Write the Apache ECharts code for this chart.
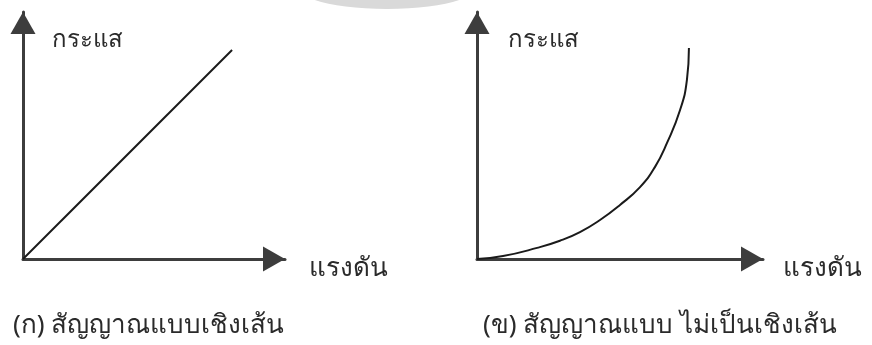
<!DOCTYPE html>
<html>
<head>
<meta charset="utf-8">
<script src="https://cdn.jsdelivr.net/npm/echarts@6/dist/echarts.min.js"></script>
<style>
  html, body { margin: 0; padding: 0; background: #ffffff; }
  #chart { width: 872px; height: 345px; }
</style>
</head>
<body>
<div id="chart"></div>
<script>
// values, in 0..100 units of each panel's axes
const linearX = [0, 79.8]
const linearY = [0, 84.6]
const curveX = [0, 9.1, 21.0, 29.0, 36.0, 43.0, 50.0, 57.0, 62.2, 66.4, 71.0, 73.4, 74.1]
const curveY = [0, 1.2, 4.5, 7.4, 10.9, 15.8, 21.9, 29.1, 37.2, 46.9, 60.3, 72.5, 85.4]

const yLabel = 'กระแส'
const xLabel = 'แรงดัน'
const captions = ['(ก) สัญญาณแบบเชิงเส้น', '(ข) สัญญาณแบบ ไม่เป็นเชิงเส้น']

const font = "'Noto Sans', 'DejaVu Sans', sans-serif"
const axisColor = '#3d3d3d'
const textColor = '#2a2a2a'

function makeAxis(gridIndex) {
  return {
    type: 'value',
    gridIndex,
    min: 0,
    max: 100,
    axisLine: {
      show: true,
      symbol: ['none', 'triangle'],
      symbolSize: [25, 22],
      // pull the arrow back so its tip sits on the axis end
      symbolOffset: [0, -11],
      lineStyle: { color: axisColor, width: 3 },
    },
    axisTick: { show: false },
    axisLabel: { show: false },
    splitLine: { show: false },
  }
}

function pairs(xs, ys) {
  return xs.map((x, i) => [x, ys[i]])
}

function label(text, left, top, size) {
  return {
    type: 'text',
    left,
    top,
    style: { text, font: `${size}px ${font}`, fill: textColor },
  }
}

const chart = echarts.init(document.getElementById('chart'))

chart.setOption({
  animation: false,
  backgroundColor: '#ffffff',
  grid: [
    { left: 23, top: 12, width: 262, height: 247 },
    { left: 477, top: 12, width: 286, height: 247 },
  ],
  xAxis: [makeAxis(0), makeAxis(1)],
  yAxis: [makeAxis(0), makeAxis(1)],
  title: [
    {
      text: captions[0],
      left: 8,
      top: 308,
      textStyle: { fontFamily: font, fontSize: 26, fontWeight: 'normal', color: textColor },
    },
    {
      text: captions[1],
      left: 478,
      top: 308,
      textStyle: { fontFamily: font, fontSize: 26, fontWeight: 'normal', color: textColor },
    },
  ],
  graphic: [
    {
      type: 'ellipse',
      shape: { cx: 387, cy: -12, rx: 88, ry: 21 },
      style: { fill: '#d9d9d9' },
      silent: true,
    },
    label(yLabel, 52, 28, 24),
    label(yLabel, 508, 28, 24),
    label(xLabel, 309, 256, 26),
    label(xLabel, 783, 256, 26),
  ],
  series: [
    {
      type: 'line',
      xAxisIndex: 0,
      yAxisIndex: 0,
      data: pairs(linearX, linearY),
      showSymbol: false,
      lineStyle: { color: '#1a1a1a', width: 2 },
    },
    {
      type: 'line',
      xAxisIndex: 1,
      yAxisIndex: 1,
      data: pairs(curveX, curveY),
      smooth: 0.5,
      showSymbol: false,
      lineStyle: { color: '#1a1a1a', width: 2 },
    },
  ],
})
</script>
</body>
</html>
